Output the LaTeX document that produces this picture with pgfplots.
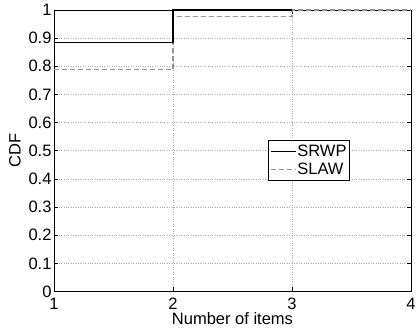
\documentclass[border=0pt]{standalone}
\usepackage{fontspec}
\setmainfont{Liberation Sans}
\usepackage{pgfplots}
\pgfplotsset{compat=1.18}
\begin{document}
\begin{tikzpicture}[x=1pt,y=1pt]
\useasboundingbox (-54,-40.5) rectangle (362,291.5);
\begin{axis}[
  at={(0,0)}, anchor=south west,
  scale only axis, width=357pt, height=281.5pt,
  xmin=1, xmax=4, ymin=0, ymax=1,
  xtick={1,2,3,4}, ytick={0,0.1,0.2,0.3,0.4,0.5,0.6,0.7,0.8,0.9,1},
  yticklabels={0,0.1,0.2,0.3,0.4,0.5,0.6,0.7,0.8,0.9,1},
  xticklabels={1,2,3,4},
  tick align=inside, tick pos=both, major tick length=4pt,
  axis line style={line width=0.9pt},
  every tick/.style={black, line width=0.6pt},
  grid=major, major grid style={dotted, gray!65, line width=0.5pt},
  tick label style={font=\fontsize{16.5}{18}\selectfont},
  yticklabel style={xshift=1pt},
  xticklabel style={yshift=-3pt},
  label style={font=\fontsize{16.5}{18}\selectfont},
  xlabel={Number of items}, ylabel={CDF},
  xlabel style={yshift=4pt},
  ylabel style={yshift=1pt},
  legend style={at={(0.714,0.466)}, anchor=center, draw=black, line width=0.8pt, fill=white,
    font=\fontsize{16.5}{18}\selectfont, inner xsep=2pt, inner ysep=2pt,
    nodes={inner xsep=1pt, inner ysep=2.5pt}},
  legend cell align=left,
  legend image code/.code={\draw[#1] (0pt,0pt) -- (25pt,0pt);},
]
\addlegendimage{black, line width=1.1pt}
\addlegendentry{SRWP}
\addlegendimage{gray!85, line width=1.1pt, dash pattern=on 5pt off 3pt}
\addlegendentry{SLAW}
\addplot[forget plot, gray!85, line width=1.1pt, dash pattern=on 5pt off 3pt] coordinates {(1,0.788) (2,0.788) (2,0.978) (3,0.978) (3,1) (4,1)};
\addplot[forget plot, black, line width=1.1pt] coordinates {(1,0.886) (2,0.886) (2,1) (3,1)};
\end{axis}
\end{tikzpicture}
\end{document}
